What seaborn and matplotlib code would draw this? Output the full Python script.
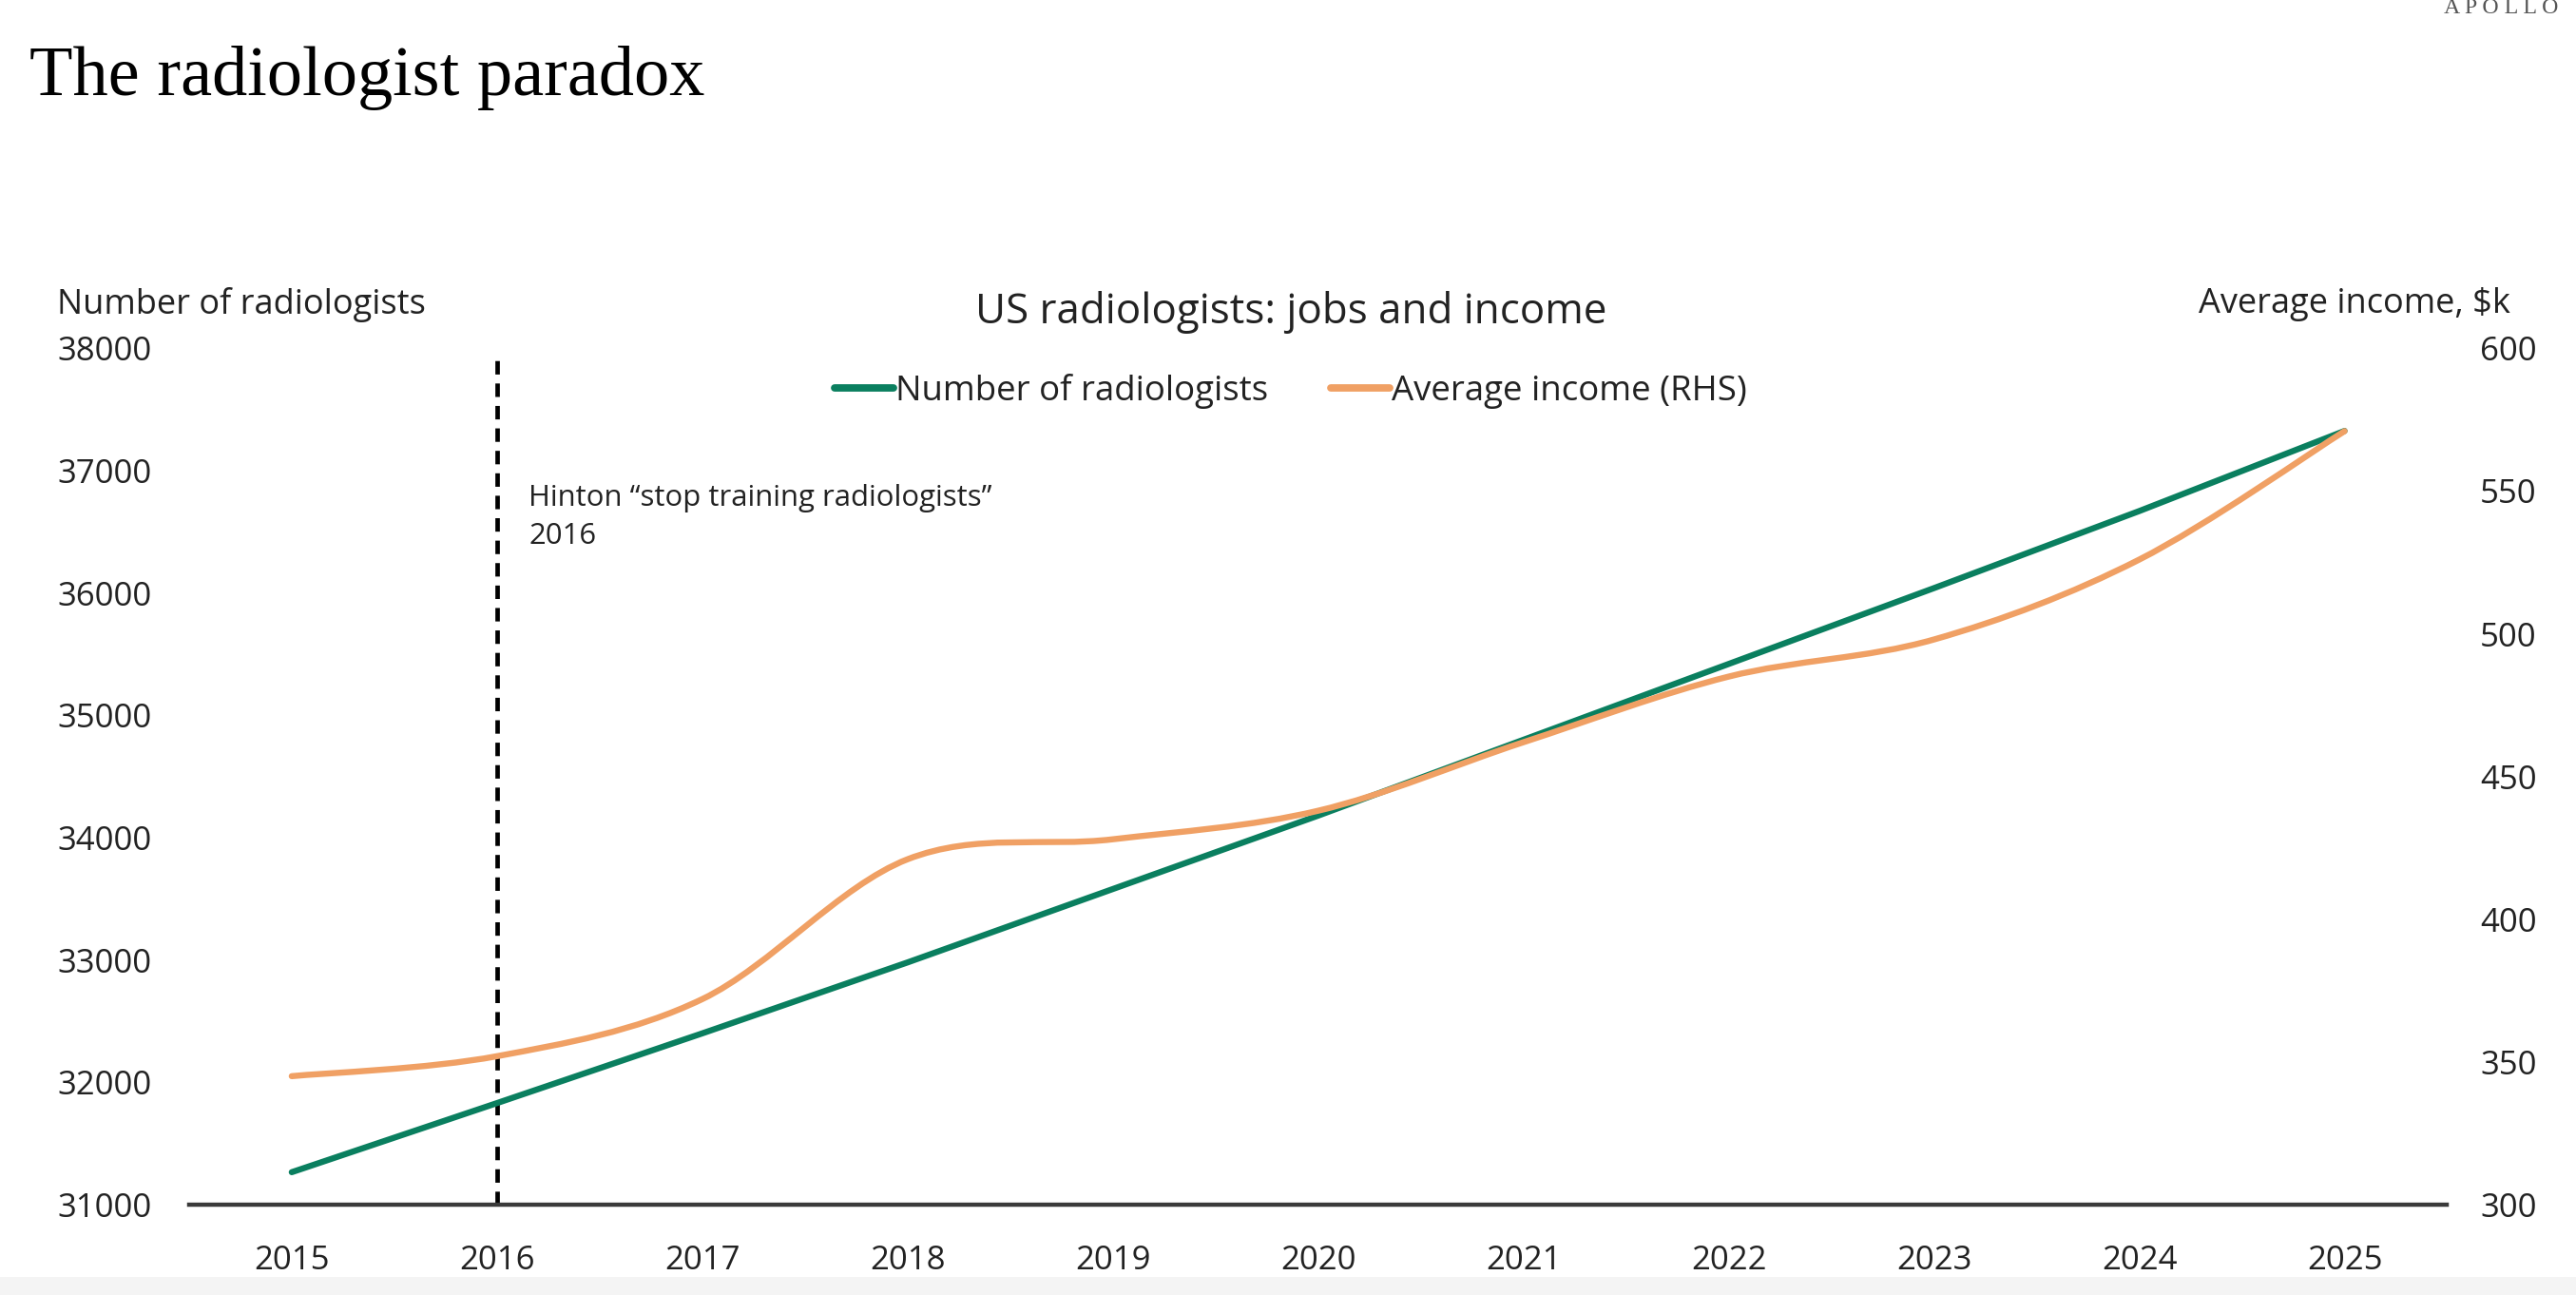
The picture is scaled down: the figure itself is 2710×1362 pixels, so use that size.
import numpy as np
import pandas as pd
import seaborn as sns
import matplotlib.pyplot as plt
from matplotlib.path import Path
from matplotlib.patches import PathPatch, Rectangle
from matplotlib.lines import Line2D

# values
years = [2015, 2016, 2017, 2018, 2019, 2020, 2021, 2022, 2023, 2024, 2025]
radiologists = [31265, 31830, 32400, 32980, 33580, 34180, 34800, 35420, 36040, 36670, 37325]
income = [345, 352, 372, 421, 428, 438, 462, 485, 498, 526, 571]
left_ticks = [31000, 32000, 33000, 34000, 35000, 36000, 37000, 38000]
right_ticks = [300, 350, 400, 450, 500, 550, 600]
hinton_year = 2016

green = "#0a7f5f"
orange = "#f0a064"
font = ["Open Sans", "DejaVu Sans"]

sns.set_theme(style="white")
plt.rcParams["font.family"] = font
plt.rcParams["text.color"] = "#222222"

fig = plt.figure(figsize=(13.55, 6.81), dpi=200)
ax = fig.add_axes([0.0734, 0.0698, 0.8766, 0.6612])
ax2 = ax.twinx()

df = pd.DataFrame({"year": years, "radiologists": radiologists, "income": income})
sns.lineplot(data=df, x="year", y="radiologists", ax=ax, color=green, linewidth=2.3,
             solid_capstyle="round", zorder=3)

# smoothed line for income (Excel-style bezier through the points)
pts = np.column_stack([df["year"], df["income"]]).astype(float)
verts = [pts[0]]
codes = [Path.MOVETO]
n = len(pts)
for i in range(n - 1):
    p0 = pts[max(i - 1, 0)]
    p1 = pts[i]
    p2 = pts[i + 1]
    p3 = pts[min(i + 2, n - 1)]
    verts += [p1 + (p2 - p0) / 6, p2 - (p3 - p1) / 6, p2]
    codes += [Path.CURVE4] * 3
ax2.add_patch(PathPatch(Path(verts, codes), facecolor="none", edgecolor=orange,
                        linewidth=2.3, capstyle="round", zorder=3))

ax.set_xlim(2014.5, 2025.5)
ax.set_ylim(31000, 38000)
ax2.set_ylim(300, 600)
ax.set_xticks(years)
ax.set_xticklabels([str(y) for y in years])
ax.set_yticks(left_ticks)
ax2.set_yticks(right_ticks)
ax.set_xlabel("")
ax.set_ylabel("")

for a in (ax, ax2):
    for s in ["top", "left", "right", "bottom"]:
        a.spines[s].set_visible(False)
ax.spines["bottom"].set_visible(True)
ax.spines["bottom"].set_color("#3a3a3a")
ax.spines["bottom"].set_linewidth(1.6)

ax.tick_params(axis="x", length=0, pad=15, labelsize=12.5, labelcolor="#222222")
ax.tick_params(axis="y", length=0, pad=14, labelsize=12.5, labelcolor="#222222")
ax2.tick_params(axis="y", length=0, pad=12.5, labelsize=12.5, labelcolor="#222222")

# Hinton marker
ax.vlines(hinton_year, 31000, 37920, colors="black", linestyles=(0, (3, 2)),
          linewidth=1.7, zorder=2)
ax.annotate("Hinton \u201cstop training radiologists\u201d\n2016",
            xy=(hinton_year, 37000), xytext=(12, -5), textcoords="offset points",
            ha="left", va="top", fontsize=11.2, linespacing=1.45)

# texts
fig.text(0.0114, 0.9266, "The radiologist paradox", family="Liberation Serif",
         fontsize=26.8, color="black", ha="left", va="baseline")
fig.text(0.993, 0.9897, "A P O L L O", family="Liberation Serif", fontsize=8.6,
         color="#555555", ha="right", va="baseline")
fig.text(0.501, 0.759, "US radiologists: jobs and income", fontsize=15.8,
         ha="center", va="center")
fig.text(0.0221, 0.765, "Number of radiologists", fontsize=13, ha="left", va="center")
fig.text(0.9745, 0.765, "Average income, $k", fontsize=13, ha="right", va="center")

handles = [Line2D([], [], color=green, linewidth=2.8),
           Line2D([], [], color=orange, linewidth=2.8)]
fig.legend(handles, ["Number of radiologists", "Average income (RHS)"],
           loc="center", bbox_to_anchor=(0.501, 0.698), ncol=2, frameon=False,
           fontsize=13.2, handlelength=1.7, handletextpad=0.05, columnspacing=1.8)

fig.patches.append(Rectangle((0, 0), 1, 0.014, transform=fig.transFigure,
                             facecolor="#f4f4f4", edgecolor="none", zorder=-1))

fig.savefig("out.png", dpi=200)
